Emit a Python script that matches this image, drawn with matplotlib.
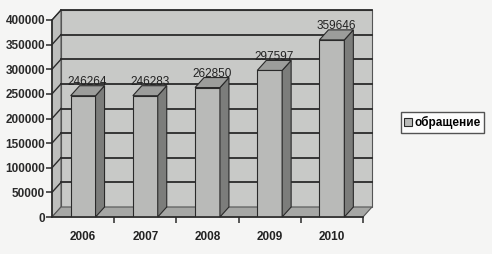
import matplotlib
matplotlib.use('Agg')
import matplotlib.pyplot as plt
from matplotlib.patches import Polygon, Patch
from matplotlib.lines import Line2D
from matplotlib.transforms import ScaledTranslation, IdentityTransform
import numpy as np

# ---- data ----
years = ['2006', '2007', '2008', '2009', '2010']
values = [246264, 246283, 262850, 297597, 359646]
value_labels = ['246264', '246283', '262850', '297597', '359646']
series_name = 'обращение'
y_ticks = [0, 50000, 100000, 150000, 200000, 250000, 300000, 350000, 400000]

# ---- style ----
plt.rcParams['font.family'] = ['Liberation Sans', 'DejaVu Sans']
C_BG = '#f5f5f4'
C_WALL = '#c8c9c7'
C_LWALL = '#bebfbd'
C_FLOOR = '#a6a7a5'
C_FRONT = '#b9bab8'
C_SIDE = '#7c7d7b'
C_TOP = '#9c9d9b'
C_LINE = '#2a2a2a'
DPI = 100
DX, DY = 9, 10  # depth offset in pixels

fig = plt.figure(figsize=(4.92, 2.54), dpi=DPI)
fig.patch.set_facecolor(C_BG)
ax = fig.add_axes([52 / 492, 37 / 254, 311 / 492, 197 / 254])
ax.patch.set_visible(False)
ax.set_xlim(-0.5, len(years) - 0.5)
ax.set_ylim(y_ticks[0], y_ticks[-1])
ax.autoscale(False)

back = ax.transData + ScaledTranslation(DX / DPI, DY / DPI, fig.dpi_scale_trans)


def P(x, y, d):
    return (back if d else ax.transData).transform((x, y))


def poly(pts, z, **kw):
    ax.add_patch(Polygon(np.array(pts), closed=True, transform=IdentityTransform(),
                         clip_on=False, zorder=z, **kw))


def line(p0, p1, z, **kw):
    ax.add_line(Line2D([p0[0], p1[0]], [p0[1], p1[1]], transform=IdentityTransform(),
                       clip_on=False, zorder=z, **kw))


xmin, xmax = ax.get_xlim()
ymin, ymax = ax.get_ylim()

# back wall
poly([P(xmin, ymin, 1), P(xmax, ymin, 1), P(xmax, ymax, 1), P(xmin, ymax, 1)], 0,
     facecolor=C_WALL, edgecolor='#555555', linewidth=0.8)
# left wall
poly([P(xmin, ymin, 0), P(xmin, ymin, 1), P(xmin, ymax, 1), P(xmin, ymax, 0)], 0.5,
     facecolor=C_LWALL, edgecolor='#555555', linewidth=0.8)
# gridlines
for yv in y_ticks[1:]:
    line(P(xmin, yv, 1), P(xmax, yv, 1), 1, color=C_LINE, linewidth=1.3)
    line(P(xmin, yv, 0), P(xmin, yv, 1), 1, color=C_LINE, linewidth=1.0)
# floor
poly([P(xmin, ymin, 0), P(xmax, ymin, 0), P(xmax, ymin, 1), P(xmin, ymin, 1)], 1.5,
     facecolor=C_FLOOR, edgecolor='#555555', linewidth=0.8)

# bars
xs = np.arange(len(years))
w = 0.4
ax.bar(xs, values, width=w, color=C_FRONT, edgecolor=C_LINE, linewidth=0.8, zorder=3)
for x, v, lab in zip(xs, values, value_labels):
    l, r = x - w / 2, x + w / 2
    poly([P(r, 0, 0), P(r, 0, 1), P(r, v, 1), P(r, v, 0)], 3,
         facecolor=C_SIDE, edgecolor=C_LINE, linewidth=0.8)
    poly([P(l, v, 0), P(r, v, 0), P(r, v, 1), P(l, v, 1)], 3,
         facecolor=C_TOP, edgecolor=C_LINE, linewidth=0.8)
    ax.annotate(lab, (x, v), xytext=(DX / 2 * 0.72, 5.5), textcoords='offset points',
                ha='center', va='bottom', fontsize=8.5, color='#222222', zorder=5,
                annotation_clip=False)

# axes / ticks
for s in ['top', 'right']:
    ax.spines[s].set_visible(False)
for s in ['left', 'bottom']:
    ax.spines[s].set_color(C_LINE)
    ax.spines[s].set_linewidth(1.2)
    ax.spines[s].set_zorder(6)
ax.set_yticks(y_ticks)
ax.set_yticklabels([str(t) for t in y_ticks], fontsize=8.5, fontweight='bold', color='#222222')
ax.tick_params(axis='y', direction='out', length=4, width=1.1, pad=1, colors=C_LINE)
ax.set_xticks(xs + 0.5)
ax.set_xticklabels([])
ax.set_xticks(xs, minor=True)
ax.set_xticklabels(years, minor=True, fontsize=8.5, fontweight='bold', color='#222222')
ax.tick_params(axis='x', which='major', direction='out', length=4, width=1.1, colors=C_LINE)
ax.tick_params(axis='x', which='minor', length=0, pad=10)

# legend
handles = [Patch(facecolor=C_FRONT, edgecolor=C_LINE, linewidth=0.8, label=series_name)]
leg = fig.legend(handles=handles, loc='center', bbox_to_anchor=(442.5 / 492, 1 - 122.5 / 254),
                 frameon=True, fancybox=False, edgecolor=C_LINE, facecolor='white',
                 handlelength=0.7, handleheight=0.7, handletextpad=0.2, borderpad=0.3,
                 borderaxespad=0, prop={'size': 8.5, 'weight': 'bold'})
leg.get_frame().set_linewidth(1.0)
leg._legend_box.sep = 0

fig.savefig('out.png', dpi=DPI, facecolor=fig.get_facecolor())
